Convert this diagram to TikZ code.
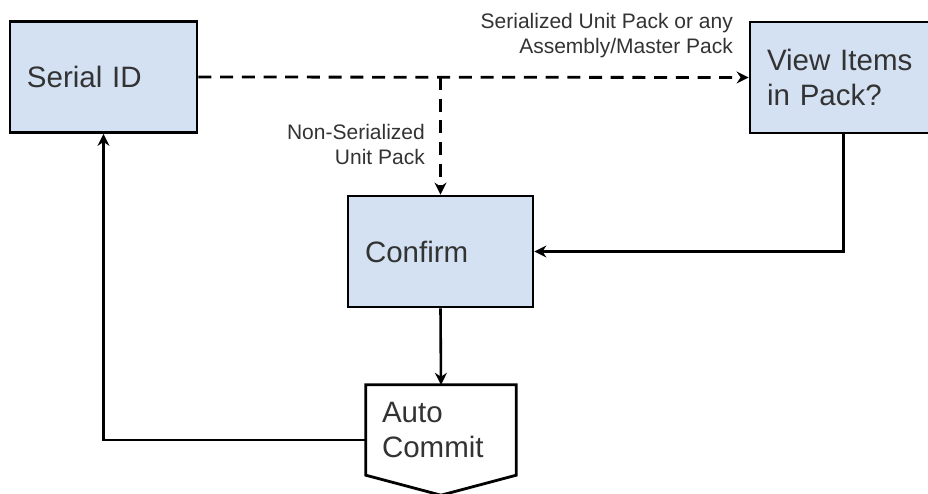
\documentclass[tikz,border=0pt]{standalone}
\usepackage{fontspec}
\setmainfont{Liberation Sans}
\usetikzlibrary{arrows.meta,calc}
\definecolor{boxfill}{HTML}{D3E1F2}
\definecolor{txt}{HTML}{333333}
\tikzset{
  procbox/.style={draw=black, line width=2.8pt, fill=boxfill, minimum width=#1, minimum height=111pt,
    text width=#1-34pt, align=left, inner xsep=17pt, text=txt,
    font=\fontsize{29.5pt}{35.5pt}\selectfont},
  procbox/.default=187pt,
  lbl/.style={inner sep=0pt, align=right, text=txt, font=\fontsize{21pt}{25.5pt}\selectfont},
  conn/.style={line width=2.6pt, draw=black},
  arr/.style={-{Stealth[length=12pt,width=12pt,inset=4pt]}},
  dashconn/.style={conn, line width=2.8pt, dash pattern=on 13pt off 8.7pt}
}
\begin{document}
\begin{tikzpicture}[x=1pt,y=-1pt]
\useasboundingbox (0,0) rectangle (928,494);
\clip (0,0) rectangle (928,494);
\fill[white] (0,0) rectangle (928,494);

\node[procbox] (sid) at (103.5,77) {Serial ID};
\node[procbox] (vi) at (843.5,77.5) {View Items\\in Pack?};
\node[procbox=185pt] (cf) at (440.5,251.5) {Confirm};

% Auto Commit off-page connector
\node[minimum width=150pt, minimum height=110pt, inner sep=0pt] (ac) at (441,440) {};
\draw[line width=2.8pt, line join=miter, fill=white]
  (ac.north west) -- (ac.north east) -- ($(ac.south east)+(0,-20)$) -- (ac.south)
  -- ($(ac.south west)+(0,-20)$) -- cycle;
\node[text width=118pt, align=left, inner sep=0pt, text=txt,
  font=\fontsize{29.5pt}{35.5pt}\selectfont] (actext) at (441,430) {Auto\\Commit};

% connectors
\coordinate (jn) at (cf.north |- sid.east);
\draw[dashconn, arr] (sid.east) -- (vi.west);
\draw[dashconn, arr] (jn) -- (cf.north);
\draw[conn, arr] (vi.south) |- (cf.east);
\draw[conn, arr] (cf.south) -- (ac.north);
\draw[conn, arr] (ac.west) -| (sid.south);

% labels
\node[lbl, anchor=north east] (lblser) at (733,13) {Serialized Unit Pack or any\\Assembly/Master Pack};
\node[lbl, anchor=north east] (lblnon) at (425,124) {Non-Serialized\\Unit Pack};
\end{tikzpicture}
\end{document}
